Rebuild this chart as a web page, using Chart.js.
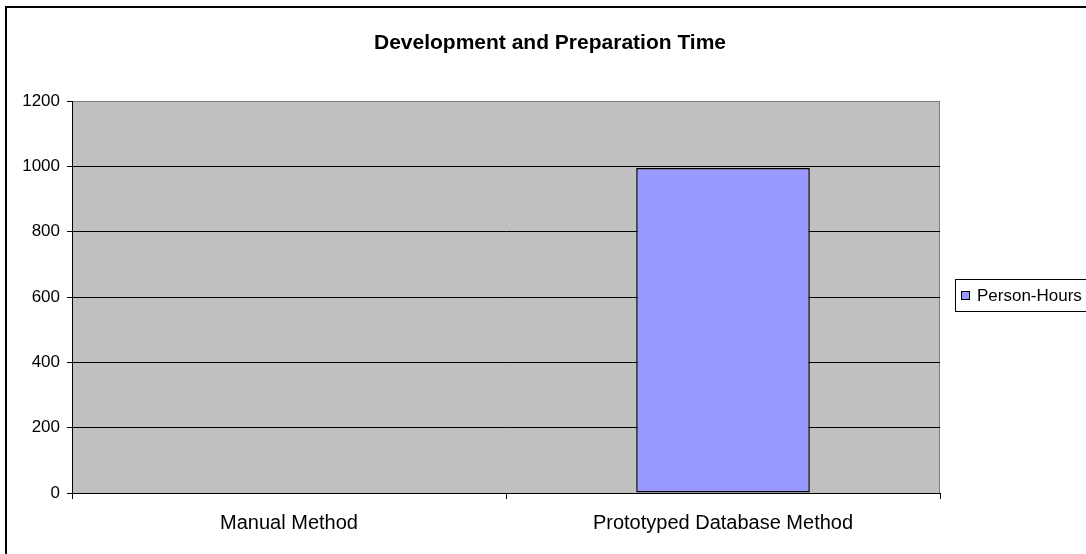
<!DOCTYPE html>
<html>
<head>
<meta charset="utf-8">
<script src="https://cdn.jsdelivr.net/npm/chart.js@4/dist/chart.umd.min.js"></script>
<style>
  html, body { margin: 0; padding: 0; background: #fff; }
  #wrap { width: 1086px; height: 554px; position: relative; }
</style>
</head>
<body>
<div id="wrap"><canvas id="grafica"></canvas></div>
<script>
const categorias = ['Manual Method', 'Prototyped Database Method'];
const horas = [0, 995];
const etiquetaSerie = 'Person-Hours';
const titulo = 'Development and Preparation Time';

const fuente = '"Liberation Sans", Arial, sans-serif';

// fondo gris del area de trazado, marco exterior, titulo y leyenda
const estiloExcel = {
  id: 'estiloExcel',
  beforeDraw(chart) {
    const { ctx, chartArea: a } = chart;
    ctx.save();
    ctx.fillStyle = '#ffffff';
    ctx.fillRect(0, 0, chart.width, chart.height);
    ctx.fillStyle = '#c0c0c0';
    ctx.fillRect(a.left, a.top, a.right - a.left, a.bottom - a.top);
    ctx.strokeStyle = '#808080';
    ctx.lineWidth = 1;
    ctx.strokeRect(a.left + 0.5, a.top + 0.5, a.right - a.left - 1, a.bottom - a.top);
    ctx.restore();
  },
  afterDraw(chart) {
    const { ctx } = chart;
    ctx.save();
    ctx.strokeStyle = '#000';
    ctx.lineWidth = 2;
    ctx.strokeRect(6, 7, 1100, 600);

    ctx.fillStyle = '#000';
    ctx.font = 'bold 21px ' + fuente;
    ctx.textAlign = 'center';
    ctx.textBaseline = 'middle';
    ctx.fillText(titulo, 550, 43);

    // leyenda
    ctx.lineWidth = 1;
    ctx.strokeRect(955.5, 279.5, 131, 32);
    ctx.fillStyle = chart.data.datasets[0].backgroundColor;
    ctx.fillRect(961, 291, 9, 9);
    ctx.strokeRect(961.5, 291.5, 8, 8);
    ctx.fillStyle = '#000';
    ctx.font = '17px ' + fuente;
    ctx.textAlign = 'left';
    ctx.fillText(chart.data.datasets[0].label, 977, 296);
    ctx.restore();
  }
};

new Chart(document.getElementById('grafica'), {
  type: 'bar',
  data: {
    labels: categorias,
    datasets: [{
      label: etiquetaSerie,
      data: horas,
      backgroundColor: '#9999ff',
      borderColor: '#000000',
      borderWidth: 1.5,
      borderSkipped: false,
      barPercentage: 0.4,
      categoryPercentage: 1.0
    }]
  },
  options: {
    animation: false,
    responsive: true,
    maintainAspectRatio: false,
    layout: {
      padding: { top: 101, right: 146, bottom: 0, left: 0 }
    },
    plugins: {
      legend: { display: false },
      title: { display: false },
      tooltip: { enabled: false }
    },
    scales: {
      x: {
        offset: true,
        grid: {
          offset: true,
          drawOnChartArea: false,
          drawTicks: true,
          tickLength: 6,
          color: '#000'
        },
        border: { color: '#000', width: 1 },
        ticks: {
          color: '#000',
          padding: 12,
          maxRotation: 0,
          font: { family: fuente, size: 20 }
        },
        afterFit(scale) { scale.height = 61; }
      },
      y: {
        min: 0,
        max: 1200,
        ticks: {
          stepSize: 200,
          color: '#000',
          padding: 7,
          font: { family: fuente, size: 17 },
          callback: function(value) { return String(value); }
        },
        grid: {
          color: (c) => (c.tick && c.tick.value === 1200) ? '#808080' : '#000',
          tickColor: '#000',
          tickLength: 5,
          drawTicks: true
        },
        border: { color: '#000', width: 1 },
        afterFit(scale) { scale.width = 72; }
      }
    }
  },
  plugins: [estiloExcel]
});
</script>
</body>
</html>
